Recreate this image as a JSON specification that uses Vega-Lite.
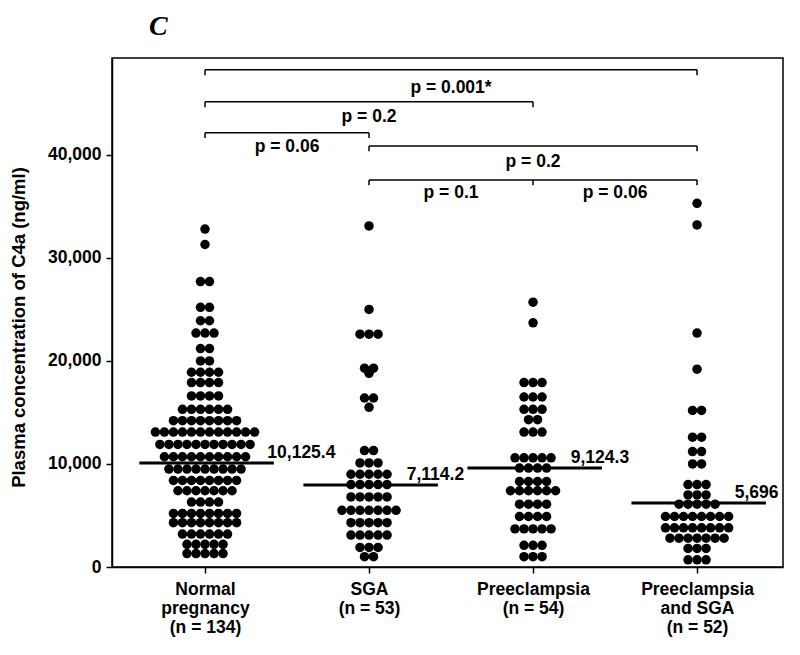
{
  "$schema": "https://vega.github.io/schema/vega-lite/v6.json",
  "width": 671,
  "height": 509,
  "autosize": {"type": "none"},
  "padding": {"left": 112, "top": 58, "right": 17, "bottom": 88},
  "background": "white",
  "config": {
    "view": {"stroke": "black", "strokeWidth": 1.5},
    "font": "Liberation Sans",
    "text": {"font": "Liberation Sans"}
  },
  "title": {
    "text": "C",
    "font": "Liberation Serif",
    "fontStyle": "italic",
    "fontWeight": "bold",
    "fontSize": 28,
    "color": "black",
    "anchor": "start",
    "frame": "group",
    "dx": 37,
    "offset": -11,
    "baseline": "bottom"
  },
  "datasets": {
    "dots": [
      {"grp":0,"v":32800},{"grp":0,"v":31300},
      {"grp":0,"v":27700},{"grp":0,"v":27700},
      {"grp":0,"v":25200},{"grp":0,"v":25200},
      {"grp":0,"v":23900},{"grp":0,"v":23900},
      {"grp":0,"v":22700},{"grp":0,"v":22700},{"grp":0,"v":22700},
      {"grp":0,"v":21200},{"grp":0,"v":21200},
      {"grp":0,"v":20000},{"grp":0,"v":20000},
      {"grp":0,"v":18900},{"grp":0,"v":18900},{"grp":0,"v":18900},{"grp":0,"v":18900},
      {"grp":0,"v":17900},{"grp":0,"v":17900},{"grp":0,"v":17900},{"grp":0,"v":17900},
      {"grp":0,"v":16600},{"grp":0,"v":16600},{"grp":0,"v":16600},{"grp":0,"v":16600},
      {"grp":0,"v":15300},{"grp":0,"v":15300},{"grp":0,"v":15300},{"grp":0,"v":15300},{"grp":0,"v":15300},{"grp":0,"v":15300},
      {"grp":0,"v":14200},{"grp":0,"v":14200},{"grp":0,"v":14200},{"grp":0,"v":14200},{"grp":0,"v":14200},{"grp":0,"v":14200},{"grp":0,"v":14200},{"grp":0,"v":14200},
      {"grp":0,"v":13100},{"grp":0,"v":13100},{"grp":0,"v":13100},{"grp":0,"v":13100},{"grp":0,"v":13100},{"grp":0,"v":13100},{"grp":0,"v":13100},{"grp":0,"v":13100},{"grp":0,"v":13100},{"grp":0,"v":13100},{"grp":0,"v":13100},{"grp":0,"v":13100},
      {"grp":0,"v":11900},{"grp":0,"v":11900},{"grp":0,"v":11900},{"grp":0,"v":11900},{"grp":0,"v":11900},{"grp":0,"v":11900},{"grp":0,"v":11900},{"grp":0,"v":11900},{"grp":0,"v":11900},{"grp":0,"v":11900},{"grp":0,"v":11900},
      {"grp":0,"v":10700},{"grp":0,"v":10700},{"grp":0,"v":10700},{"grp":0,"v":10700},{"grp":0,"v":10700},{"grp":0,"v":10700},{"grp":0,"v":10700},{"grp":0,"v":10700},{"grp":0,"v":10700},{"grp":0,"v":10700},
      {"grp":0,"v":9500},{"grp":0,"v":9500},{"grp":0,"v":9500},{"grp":0,"v":9500},{"grp":0,"v":9500},{"grp":0,"v":9500},{"grp":0,"v":9500},{"grp":0,"v":9500},{"grp":0,"v":9500},
      {"grp":0,"v":8400},{"grp":0,"v":8400},{"grp":0,"v":8400},{"grp":0,"v":8400},{"grp":0,"v":8400},{"grp":0,"v":8400},{"grp":0,"v":8400},{"grp":0,"v":8400},
      {"grp":0,"v":7400},{"grp":0,"v":7400},{"grp":0,"v":7400},{"grp":0,"v":7400},{"grp":0,"v":7400},{"grp":0,"v":7400},{"grp":0,"v":7400},
      {"grp":0,"v":6300},{"grp":0,"v":6300},{"grp":0,"v":6300},{"grp":0,"v":6300},
      {"grp":0,"v":5200},{"grp":0,"v":5200},{"grp":0,"v":5200},{"grp":0,"v":5200},{"grp":0,"v":5200},{"grp":0,"v":5200},{"grp":0,"v":5200},{"grp":0,"v":5200},
      {"grp":0,"v":4300},{"grp":0,"v":4300},{"grp":0,"v":4300},{"grp":0,"v":4300},{"grp":0,"v":4300},{"grp":0,"v":4300},{"grp":0,"v":4300},{"grp":0,"v":4300},
      {"grp":0,"v":3200},{"grp":0,"v":3200},{"grp":0,"v":3200},{"grp":0,"v":3200},{"grp":0,"v":3200},{"grp":0,"v":3200},
      {"grp":0,"v":2200},{"grp":0,"v":2200},{"grp":0,"v":2200},{"grp":0,"v":2200},{"grp":0,"v":2200},
      {"grp":0,"v":1300},{"grp":0,"v":1300},{"grp":0,"v":1300},{"grp":0,"v":1300},{"grp":0,"v":1300},

      {"grp":1,"v":33100},{"grp":1,"v":25000},
      {"grp":1,"v":22600},{"grp":1,"v":22600},{"grp":1,"v":22600},
      {"grp":1,"v":19300},{"grp":1,"v":19300},{"grp":1,"v":18800},
      {"grp":1,"v":16400},{"grp":1,"v":16400},{"grp":1,"v":15500},
      {"grp":1,"v":11300},{"grp":1,"v":11300},
      {"grp":1,"v":10100},{"grp":1,"v":10100},{"grp":1,"v":10100},
      {"grp":1,"v":9000},{"grp":1,"v":9000},{"grp":1,"v":9000},{"grp":1,"v":9000},{"grp":1,"v":9000},
      {"grp":1,"v":8000},{"grp":1,"v":8000},{"grp":1,"v":8000},{"grp":1,"v":8000},{"grp":1,"v":8000},
      {"grp":1,"v":6800},{"grp":1,"v":6800},{"grp":1,"v":6800},{"grp":1,"v":6800},{"grp":1,"v":6800},
      {"grp":1,"v":5500},{"grp":1,"v":5500},{"grp":1,"v":5500},{"grp":1,"v":5500},{"grp":1,"v":5500},{"grp":1,"v":5500},{"grp":1,"v":5500},
      {"grp":1,"v":4300},{"grp":1,"v":4300},{"grp":1,"v":4300},{"grp":1,"v":4300},{"grp":1,"v":4300},
      {"grp":1,"v":3100},{"grp":1,"v":3100},{"grp":1,"v":3100},{"grp":1,"v":3100},{"grp":1,"v":3100},
      {"grp":1,"v":1900},{"grp":1,"v":1900},{"grp":1,"v":1900},
      {"grp":1,"v":1000},{"grp":1,"v":1000},

      {"grp":2,"v":25700},{"grp":2,"v":23700},
      {"grp":2,"v":17900},{"grp":2,"v":17900},{"grp":2,"v":17900},
      {"grp":2,"v":16500},{"grp":2,"v":16500},{"grp":2,"v":16500},
      {"grp":2,"v":15300},{"grp":2,"v":15300},{"grp":2,"v":15300},
      {"grp":2,"v":14300},{"grp":2,"v":14300},
      {"grp":2,"v":13100},{"grp":2,"v":13100},{"grp":2,"v":13100},
      {"grp":2,"v":10600},{"grp":2,"v":10600},{"grp":2,"v":10600},{"grp":2,"v":10600},{"grp":2,"v":10600},
      {"grp":2,"v":9600},{"grp":2,"v":9600},{"grp":2,"v":9600},{"grp":2,"v":9600},
      {"grp":2,"v":8300},{"grp":2,"v":8300},{"grp":2,"v":8300},{"grp":2,"v":8300},
      {"grp":2,"v":7400},{"grp":2,"v":7400},{"grp":2,"v":7400},{"grp":2,"v":7400},{"grp":2,"v":7400},{"grp":2,"v":7400},
      {"grp":2,"v":6100},{"grp":2,"v":6100},{"grp":2,"v":6100},{"grp":2,"v":6100},
      {"grp":2,"v":4900},{"grp":2,"v":4900},{"grp":2,"v":4900},{"grp":2,"v":4900},
      {"grp":2,"v":3700},{"grp":2,"v":3700},{"grp":2,"v":3700},{"grp":2,"v":3700},{"grp":2,"v":3700},
      {"grp":2,"v":2100},{"grp":2,"v":2100},{"grp":2,"v":2100},
      {"grp":2,"v":1000},{"grp":2,"v":1000},{"grp":2,"v":1000},

      {"grp":3,"v":35300},{"grp":3,"v":33200},{"grp":3,"v":22700},{"grp":3,"v":19200},
      {"grp":3,"v":15200},{"grp":3,"v":15200},
      {"grp":3,"v":12600},{"grp":3,"v":12600},
      {"grp":3,"v":11200},{"grp":3,"v":11200},
      {"grp":3,"v":10000},{"grp":3,"v":10000},
      {"grp":3,"v":8000},{"grp":3,"v":8000},{"grp":3,"v":8000},
      {"grp":3,"v":7000},{"grp":3,"v":7000},{"grp":3,"v":7000},
      {"grp":3,"v":6100},{"grp":3,"v":6100},{"grp":3,"v":6100},{"grp":3,"v":6100},{"grp":3,"v":6100},
      {"grp":3,"v":4900},{"grp":3,"v":4900},{"grp":3,"v":4900},{"grp":3,"v":4900},{"grp":3,"v":4900},{"grp":3,"v":4900},{"grp":3,"v":4900},{"grp":3,"v":4900},
      {"grp":3,"v":3800},{"grp":3,"v":3800},{"grp":3,"v":3800},{"grp":3,"v":3800},{"grp":3,"v":3800},{"grp":3,"v":3800},{"grp":3,"v":3800},{"grp":3,"v":3800},
      {"grp":3,"v":2800},{"grp":3,"v":2800},{"grp":3,"v":2800},{"grp":3,"v":2800},{"grp":3,"v":2800},{"grp":3,"v":2800},{"grp":3,"v":2800},
      {"grp":3,"v":1800},{"grp":3,"v":1800},{"grp":3,"v":1800},
      {"grp":3,"v":700},{"grp":3,"v":700},{"grp":3,"v":700}
    ],
    "medians": [
      {"grp":0,"v":10100,"lab":"10,125.4"},
      {"grp":1,"v":7960,"lab":"7,114.2"},
      {"grp":2,"v":9600,"lab":"9,124.3"},
      {"grp":3,"v":6200,"lab":"5,696"}
    ],
    "brackets": [
      {"a":0,"b":3,"y":48250},
      {"a":0,"b":2,"y":45150},
      {"a":0,"b":1,"y":42150},
      {"a":1,"b":3,"y":40870},
      {"a":1,"b":3,"y":37570}
    ],
    "bticks": [
      {"a":0,"y":48250},{"a":3,"y":48250},
      {"a":0,"y":45150},{"a":2,"y":45150},
      {"a":0,"y":42150},{"a":1,"y":42150},
      {"a":1,"y":40870},{"a":3,"y":40870},
      {"a":1,"y":37570},{"a":2,"y":37570},{"a":3,"y":37570}
    ],
    "ptexts": [
      {"x":1.5,"y":46500,"t":"p = 0.001*"},
      {"x":1.0,"y":43700,"t":"p = 0.2"},
      {"x":0.5,"y":40780,"t":"p = 0.06"},
      {"x":2.0,"y":39320,"t":"p = 0.2"},
      {"x":1.5,"y":36310,"t":"p = 0.1"},
      {"x":2.5,"y":36310,"t":"p = 0.06"}
    ]
  },
  "layer": [
    {
      "data": {"name": "dots"},
      "transform": [
        {"window": [{"op": "row_number", "as": "rn"}, {"op": "count", "as": "cnt"}], "groupby": ["grp", "v"], "frame": [null, null]},
        {"calculate": "datum.grp + (datum.rn - 1 - (datum.cnt - 1) / 2) * 0.055", "as": "xp"}
      ],
      "mark": {"type": "circle", "size": 90, "color": "black", "opacity": 1},
      "encoding": {
        "x": {
          "field": "xp", "type": "quantitative",
          "scale": {"domain": [-0.567, 3.524], "nice": false, "zero": false},
          "axis": {
            "values": [0, 1, 2, 3],
            "labelExpr": "split(['Normal|pregnancy|(n = 134)','SGA|(n = 53)','Preeclampsia|(n = 54)','Preeclampsia|and SGA|(n = 52)'][datum.value], '|')",
            "title": null, "grid": false,
            "domainColor": "black", "domainWidth": 1.5,
            "tickColor": "black", "tickWidth": 1.5, "tickSize": 6,
            "labelFont": "Liberation Sans", "labelFontWeight": "bold", "labelFontSize": 17.5,
            "labelColor": "black", "labelPadding": 7, "labelLineHeight": 19, "labelFlush": false, "labelOverlap": false
          }
        },
        "y": {
          "field": "v", "type": "quantitative",
          "scale": {"domain": [0, 49400], "nice": false},
          "axis": {
            "values": [0, 10000, 20000, 30000, 40000],
            "format": ",.0f",
            "title": "Plasma concentration of C4a (ng/ml)",
            "grid": false,
            "domainColor": "black", "domainWidth": 1.5,
            "tickColor": "black", "tickWidth": 1.5, "tickSize": 6,
            "labelFont": "Liberation Sans", "labelFontWeight": "bold", "labelFontSize": 17.5,
            "labelColor": "black", "labelPadding": 5,
            "titleFont": "Liberation Sans", "titleFontWeight": "bold", "titleFontSize": 18.5,
            "titleColor": "black", "titleX": -94, "titleY": 269, "titleAngle": -90,
            "titleAlign": "center", "titleBaseline": "middle"
          }
        }
      }
    },
    {
      "data": {"name": "medians"},
      "transform": [
        {"calculate": "datum.grp - 0.4", "as": "x1"},
        {"calculate": "datum.grp + 0.42", "as": "x2"}
      ],
      "mark": {"type": "rule", "color": "black", "strokeWidth": 3},
      "encoding": {
        "x": {"field": "x1", "type": "quantitative"},
        "x2": {"field": "x2"},
        "y": {"field": "v", "type": "quantitative"}
      }
    },
    {
      "data": {"name": "medians"},
      "transform": [
        {"calculate": "datum.grp + (datum.grp == 0 ? 0.38 : 0.23)", "as": "xl"}
      ],
      "mark": {"type": "text", "align": "left", "baseline": "alphabetic", "dy": -5, "font": "Liberation Sans", "fontWeight": "bold", "fontSize": 17.5, "color": "black"},
      "encoding": {
        "x": {"field": "xl", "type": "quantitative"},
        "y": {"field": "v", "type": "quantitative"},
        "text": {"field": "lab"}
      }
    },
    {
      "data": {"name": "brackets"},
      "mark": {"type": "rule", "color": "black", "strokeWidth": 1.5},
      "encoding": {
        "x": {"field": "a", "type": "quantitative"},
        "x2": {"field": "b"},
        "y": {"field": "y", "type": "quantitative"}
      }
    },
    {
      "data": {"name": "bticks"},
      "transform": [{"calculate": "datum.y - 520", "as": "y2"}],
      "mark": {"type": "rule", "color": "black", "strokeWidth": 1.5},
      "encoding": {
        "x": {"field": "a", "type": "quantitative"},
        "y": {"field": "y", "type": "quantitative"},
        "y2": {"field": "y2"}
      }
    },
    {
      "data": {"name": "ptexts"},
      "mark": {"type": "text", "align": "center", "baseline": "middle", "font": "Liberation Sans", "fontWeight": "bold", "fontSize": 17.5, "color": "black"},
      "encoding": {
        "x": {"field": "x", "type": "quantitative"},
        "y": {"field": "y", "type": "quantitative"},
        "text": {"field": "t"}
      }
    }
  ]
}
